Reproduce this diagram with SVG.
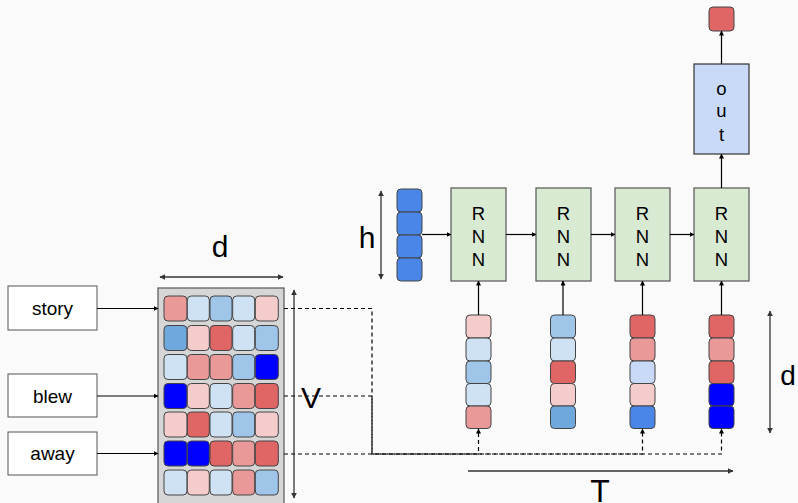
<svg xmlns="http://www.w3.org/2000/svg" width="798" height="503" viewBox="0 0 798 503">
  <defs>
    <marker id="ah" viewBox="0 0 10 10" refX="9" refY="5" markerWidth="5" markerHeight="5" orient="auto-start-reverse" markerUnits="userSpaceOnUse">
      <path d="M0,0 L10,5 L0,10 z" fill="#000"/>
    </marker>
    <marker id="ahg" viewBox="0 0 10 10" refX="9" refY="5" markerWidth="6" markerHeight="6" orient="auto-start-reverse" markerUnits="userSpaceOnUse">
      <path d="M0,0 L10,5 L0,10 z" fill="#333"/>
    </marker>
  </defs>
  <style>
    .lbl { font-family: "Liberation Sans", Arial, sans-serif; fill: #000; }
    .word { font-size: 19px; text-anchor: middle; }
    .big { font-size: 30px; text-anchor: middle; }
    .rnn { font-size: 18.5px; text-anchor: middle; }
    .box { fill: #fff; stroke: #555; stroke-width: 1; }
    .cell { stroke: #444; stroke-width: 1; }
    .rnnbox { fill: #d9ead3; stroke: #555; stroke-width: 1.2; }
    .outbox { fill: #c9daf8; stroke: #333; stroke-width: 1.2; }
    .panel { fill: #d6d6d6; stroke: #555; stroke-width: 1.2; }
    .solid { fill: none; stroke: #000; stroke-width: 1.2; }
    .dim { fill: none; stroke: #333; stroke-width: 1.3; }
    .dash { fill: none; stroke: #000; stroke-width: 1.2; stroke-dasharray: 4 3; }
    .r1 { fill: #f4cccc; } .r2 { fill: #ea9999; } .r3 { fill: #e06666; }
    .b1 { fill: #cfe2f3; } .b2 { fill: #9fc5e8; } .b3 { fill: #6fa8dc; }
    .b4 { fill: #4a86e8; } .b5 { fill: #0000ff; } .c1 { fill: #c9daf8; }
  </style>

  <rect width="798" height="503" fill="#fafafa"/>

  <!-- word boxes -->
  <g id="word-story"><rect class="box" x="8" y="286" width="89" height="44"/><text class="lbl word" x="52.5" y="315">story</text></g>
  <g id="word-blew"><rect class="box" x="8" y="374" width="89" height="43"/><text class="lbl word" x="52.5" y="402.5">blew</text></g>
  <g id="word-away"><rect class="box" x="8" y="432" width="89" height="43"/><text class="lbl word" x="52.5" y="460">away</text></g>

  <!-- embedding matrix -->
  <g id="embedding">
    <rect class="panel" x="158" y="288" width="126" height="230"/>
    <g transform="translate(164,296)">
      <rect class="cell r2" x="0" y="0" width="23" height="25" rx="4"/>
      <rect class="cell b1" x="23.3" y="0" width="22" height="25" rx="4"/>
      <rect class="cell b2" x="46" y="0" width="22" height="25" rx="4"/>
      <rect class="cell b1" x="68.7" y="0" width="22" height="25" rx="4"/>
      <rect class="cell r1" x="91.3" y="0" width="23" height="25" rx="4"/>
    </g>
    <g transform="translate(164,325.5)">
      <rect class="cell b3" x="0" y="0" width="23" height="25" rx="4"/>
      <rect class="cell r1" x="23.3" y="0" width="22" height="25" rx="4"/>
      <rect class="cell r3" x="46" y="0" width="22" height="25" rx="4"/>
      <rect class="cell b1" x="68.7" y="0" width="22" height="25" rx="4"/>
      <rect class="cell b2" x="91.3" y="0" width="23" height="25" rx="4"/>
    </g>
    <g transform="translate(164,354.5)">
      <rect class="cell b1" x="0" y="0" width="23" height="25" rx="4"/>
      <rect class="cell r2" x="23.3" y="0" width="22" height="25" rx="4"/>
      <rect class="cell r2" x="46" y="0" width="22" height="25" rx="4"/>
      <rect class="cell b2" x="68.7" y="0" width="22" height="25" rx="4"/>
      <rect class="cell b5" x="91.3" y="0" width="23" height="25" rx="4"/>
    </g>
    <g transform="translate(164,383.5)">
      <rect class="cell b5" x="0" y="0" width="23" height="25" rx="4"/>
      <rect class="cell r1" x="23.3" y="0" width="22" height="25" rx="4"/>
      <rect class="cell b1" x="46" y="0" width="22" height="25" rx="4"/>
      <rect class="cell r2" x="68.7" y="0" width="22" height="25" rx="4"/>
      <rect class="cell r3" x="91.3" y="0" width="23" height="25" rx="4"/>
    </g>
    <g transform="translate(164,412)">
      <rect class="cell r1" x="0" y="0" width="23" height="25" rx="4"/>
      <rect class="cell r3" x="23.3" y="0" width="22" height="25" rx="4"/>
      <rect class="cell b1" x="46" y="0" width="22" height="25" rx="4"/>
      <rect class="cell b2" x="68.7" y="0" width="22" height="25" rx="4"/>
      <rect class="cell r1" x="91.3" y="0" width="23" height="25" rx="4"/>
    </g>
    <g transform="translate(164,441)">
      <rect class="cell b5" x="0" y="0" width="23" height="25" rx="4"/>
      <rect class="cell b5" x="23.3" y="0" width="22" height="25" rx="4"/>
      <rect class="cell r3" x="46" y="0" width="22" height="25" rx="4"/>
      <rect class="cell r2" x="68.7" y="0" width="22" height="25" rx="4"/>
      <rect class="cell r3" x="91.3" y="0" width="23" height="25" rx="4"/>
    </g>
    <g transform="translate(164,470)">
      <rect class="cell b1" x="0" y="0" width="23" height="25" rx="4"/>
      <rect class="cell r1" x="23.3" y="0" width="22" height="25" rx="4"/>
      <rect class="cell b1" x="46" y="0" width="22" height="25" rx="4"/>
      <rect class="cell r2" x="68.7" y="0" width="22" height="25" rx="4"/>
      <rect class="cell b2" x="91.3" y="0" width="23" height="25" rx="4"/>
    </g>
  </g>

  <!-- dimension labels -->
  <g id="dim-d-top">
    <line class="dim" x1="160" y1="277" x2="283" y2="277" marker-start="url(#ahg)" marker-end="url(#ahg)"/>
    <text class="lbl big" x="220" y="257">d</text>
  </g>
  <g id="dim-V">
    <line class="dim" x1="294" y1="290" x2="294" y2="498" marker-start="url(#ahg)" marker-end="url(#ahg)"/>
    <text class="lbl big" x="311" y="408">V</text>
  </g>
  <g id="dim-h">
    <line class="dim" x1="381" y1="191" x2="381" y2="279" marker-start="url(#ahg)" marker-end="url(#ahg)"/>
    <text class="lbl big" x="367" y="248">h</text>
  </g>
  <g id="dim-d-right">
    <line class="dim" x1="770" y1="311" x2="770" y2="433" marker-start="url(#ahg)" marker-end="url(#ahg)"/>
    <text class="lbl big" x="788" y="385" style="font-size:28px">d</text>
  </g>
  <g id="dim-T">
    <line class="dim" x1="468" y1="471" x2="733" y2="471" marker-end="url(#ahg)"/>
    <text class="lbl big" x="600" y="502" style="font-size:32px">T</text>
  </g>

  <!-- initial hidden state -->
  <g id="h0">
    <rect class="cell b4" x="397" y="189" width="25" height="23" rx="4"/>
    <rect class="cell b4" x="397" y="212" width="25" height="23" rx="4"/>
    <rect class="cell b4" x="397" y="235" width="25" height="23" rx="4"/>
    <rect class="cell b4" x="397" y="258" width="25" height="23" rx="4"/>
  </g>

  <!-- RNN cells -->
  <g id="rnn1"><rect class="rnnbox" x="451" y="188" width="55" height="93"/>
    <text class="lbl rnn" x="478.5" y="219.5">R</text><text class="lbl rnn" x="478.5" y="242.5">N</text><text class="lbl rnn" x="478.5" y="265.5">N</text></g>
  <g id="rnn2"><rect class="rnnbox" x="536" y="188" width="55" height="93"/>
    <text class="lbl rnn" x="563.5" y="219.5">R</text><text class="lbl rnn" x="563.5" y="242.5">N</text><text class="lbl rnn" x="563.5" y="265.5">N</text></g>
  <g id="rnn3"><rect class="rnnbox" x="615" y="188" width="55" height="93"/>
    <text class="lbl rnn" x="642.5" y="219.5">R</text><text class="lbl rnn" x="642.5" y="242.5">N</text><text class="lbl rnn" x="642.5" y="265.5">N</text></g>
  <g id="rnn4"><rect class="rnnbox" x="694" y="188" width="55" height="93"/>
    <text class="lbl rnn" x="721.5" y="219.5">R</text><text class="lbl rnn" x="721.5" y="242.5">N</text><text class="lbl rnn" x="721.5" y="265.5">N</text></g>

  <!-- output layer -->
  <g id="out"><rect class="outbox" x="694" y="64" width="55" height="90"/>
    <text class="lbl rnn" x="721.5" y="94.5">o</text><text class="lbl rnn" x="721.5" y="116.5">u</text><text class="lbl rnn" x="721.5" y="140.5">t</text></g>
  <g id="y"><rect class="cell r3" x="709" y="7" width="25" height="24" rx="4"/></g>

  <!-- input vectors x1..x4 -->
  <g id="x1">
    <rect class="cell r1" x="466" y="315" width="25" height="23" rx="4"/>
    <rect class="cell b1" x="466" y="338" width="25" height="23" rx="4"/>
    <rect class="cell b2" x="466" y="361" width="25" height="22.5" rx="4"/>
    <rect class="cell b1" x="466" y="383.5" width="25" height="22.5" rx="4"/>
    <rect class="cell r2" x="466" y="406" width="25" height="22.5" rx="4"/>
  </g>
  <g id="x2">
    <rect class="cell b2" x="550.5" y="315" width="25" height="23" rx="4"/>
    <rect class="cell b1" x="550.5" y="338" width="25" height="23" rx="4"/>
    <rect class="cell r3" x="550.5" y="361" width="25" height="22.5" rx="4"/>
    <rect class="cell r1" x="550.5" y="383.5" width="25" height="22.5" rx="4"/>
    <rect class="cell b3" x="550.5" y="406" width="25" height="22.5" rx="4"/>
  </g>
  <g id="x3">
    <rect class="cell r3" x="630" y="315" width="25" height="23" rx="4"/>
    <rect class="cell r2" x="630" y="338" width="25" height="23" rx="4"/>
    <rect class="cell c1" x="630" y="361" width="25" height="22.5" rx="4"/>
    <rect class="cell r1" x="630" y="383.5" width="25" height="22.5" rx="4"/>
    <rect class="cell b4" x="630" y="406" width="25" height="22.5" rx="4"/>
  </g>
  <g id="x4">
    <rect class="cell r3" x="709" y="315" width="25" height="23" rx="4"/>
    <rect class="cell r2" x="709" y="338" width="25" height="23" rx="4"/>
    <rect class="cell r3" x="709" y="361" width="25" height="22.5" rx="4"/>
    <rect class="cell b5" x="709" y="383.5" width="25" height="22.5" rx="4"/>
    <rect class="cell b5" x="709" y="406" width="25" height="22.5" rx="4"/>
  </g>

  <!-- connectors -->
  <g id="connectors">
    <line class="solid" x1="97" y1="308.5" x2="158" y2="308.5" marker-end="url(#ah)"/>
    <line class="solid" x1="97" y1="396" x2="158" y2="396" marker-end="url(#ah)"/>
    <line class="solid" x1="97" y1="453.5" x2="158" y2="453.5" marker-end="url(#ah)"/>

    <line class="solid" x1="422" y1="234.5" x2="451" y2="234.5" marker-end="url(#ah)"/>
    <line class="solid" x1="506" y1="234.5" x2="536" y2="234.5" marker-end="url(#ah)"/>
    <line class="solid" x1="591" y1="234.5" x2="615" y2="234.5" marker-end="url(#ah)"/>
    <line class="solid" x1="670" y1="234.5" x2="694" y2="234.5" marker-end="url(#ah)"/>

    <line class="solid" x1="478.5" y1="315" x2="478.5" y2="281" marker-end="url(#ah)"/>
    <line class="solid" x1="563" y1="315" x2="563" y2="281" marker-end="url(#ah)"/>
    <line class="solid" x1="642.5" y1="315" x2="642.5" y2="281" marker-end="url(#ah)"/>
    <line class="solid" x1="721.5" y1="315" x2="721.5" y2="281" marker-end="url(#ah)"/>

    <line class="solid" x1="721.5" y1="188" x2="721.5" y2="154" marker-end="url(#ah)"/>
    <line class="solid" x1="721.5" y1="64" x2="721.5" y2="31" marker-end="url(#ah)"/>

    <path class="dash" d="M284,308.5 H372 V454 H478.5 V429" marker-end="url(#ah)"/>
    <path class="dash" d="M284,396 H372 V454 H642.5 V429" marker-end="url(#ah)"/>
    <path class="dash" d="M284,454 H721.5 V429" marker-end="url(#ah)"/>
  </g>
</svg>
